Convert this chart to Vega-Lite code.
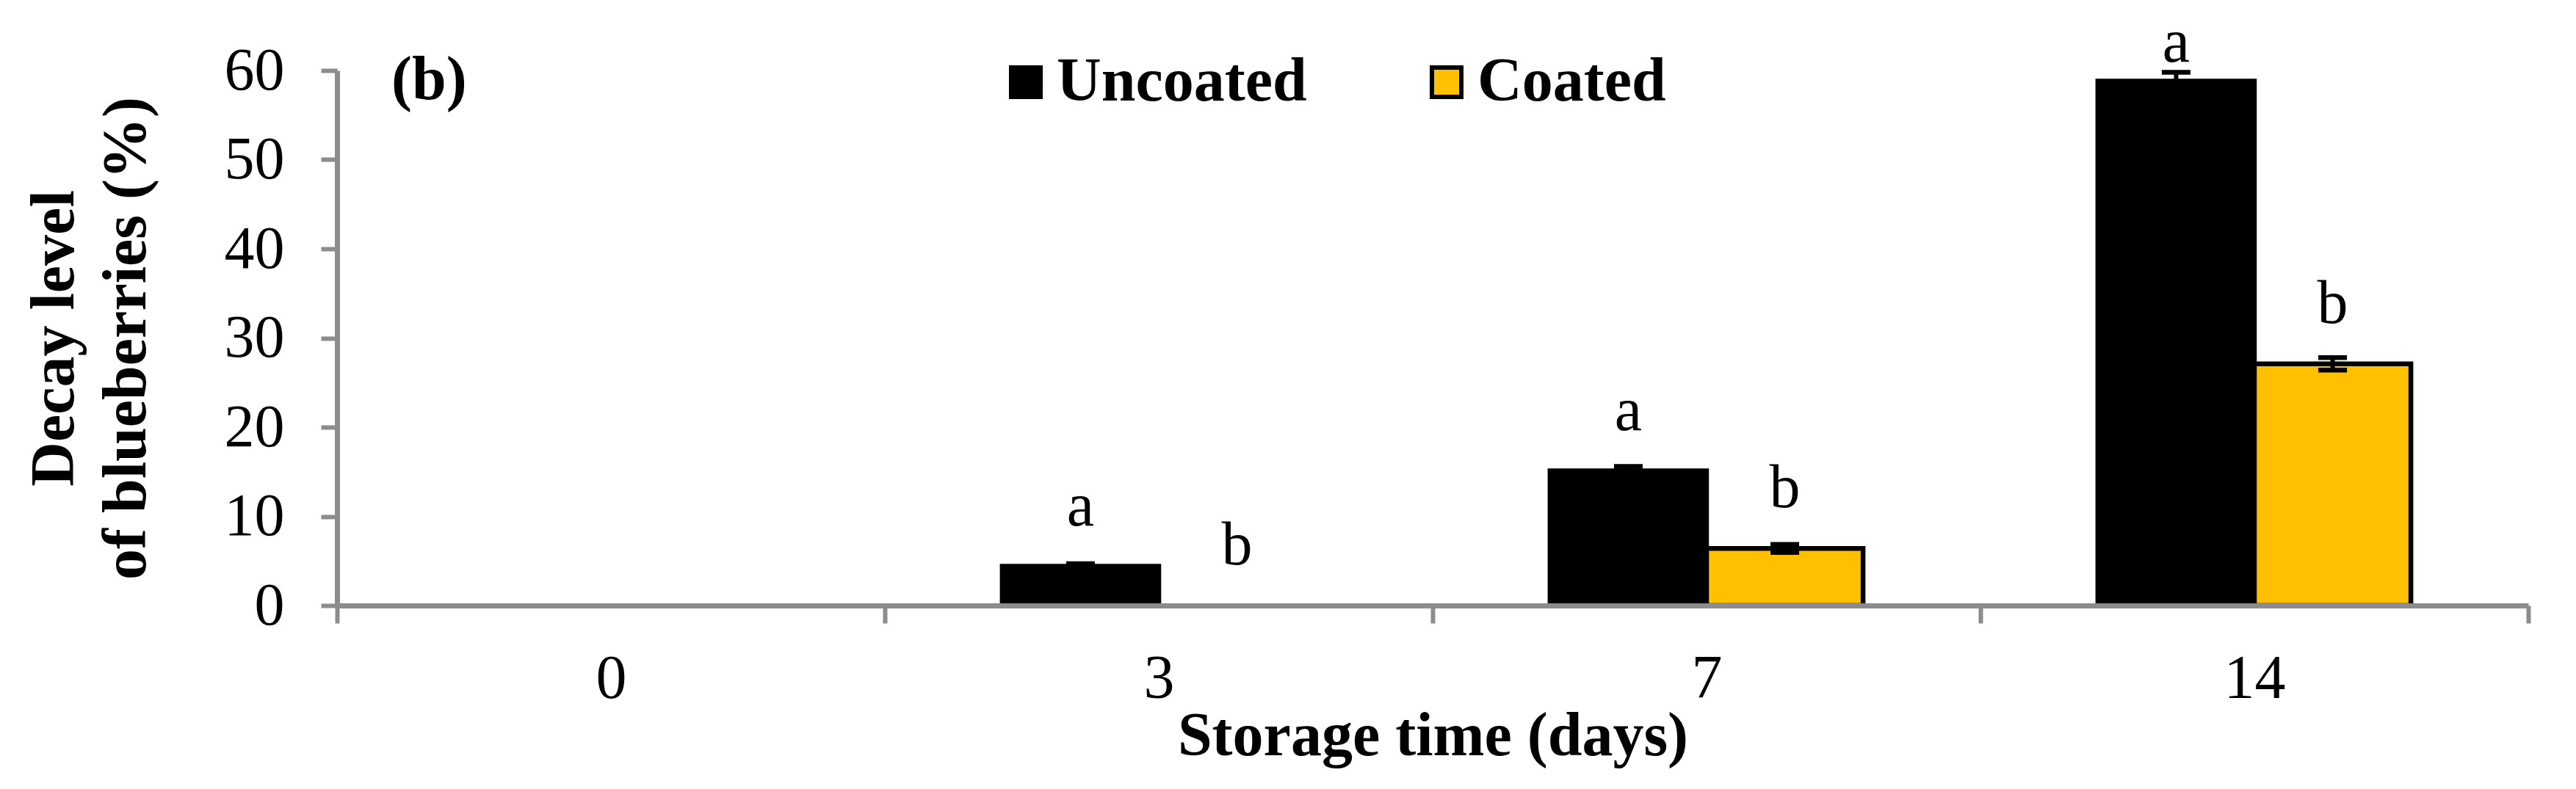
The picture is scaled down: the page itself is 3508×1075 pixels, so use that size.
{
  "$schema": "https://vega.github.io/schema/vega-lite/v6.json",
  "autosize": {"type": "none"},
  "width": 2984,
  "height": 729,
  "padding": {"left": 459, "top": 96, "right": 65, "bottom": 250},
  "background": "white",
  "view": {"stroke": null},
  "config": {
    "font": "Liberation Serif",
    "axis": {"labelFont": "Liberation Serif", "titleFont": "Liberation Serif", "labelColor": "black", "titleColor": "black"}
  },
  "datasets": {
    "decay": [
      {"day": "0", "group": "Uncoated", "value": 0, "se": 0, "letter": ""},
      {"day": "0", "group": "Coated", "value": 0, "se": 0, "letter": ""},
      {"day": "3", "group": "Uncoated", "value": 4.4, "se": 0.3, "letter": "a"},
      {"day": "3", "group": "Coated", "value": 0, "se": 0, "letter": "b"},
      {"day": "7", "group": "Uncoated", "value": 15.1, "se": 0.5, "letter": "a"},
      {"day": "7", "group": "Coated", "value": 6.4, "se": 0.45, "letter": "b"},
      {"day": "14", "group": "Uncoated", "value": 58.8, "se": 1.0, "letter": "a"},
      {"day": "14", "group": "Coated", "value": 27.1, "se": 0.7, "letter": "b"}
    ],
    "panel": [{"panel": "(b)"}]
  },
  "data": {"name": "decay"},
  "layer": [
    {
      "transform": [{"filter": "datum.value > 0"}],
      "mark": {"type": "bar", "stroke": "black", "strokeWidth": 6.5},
      "encoding": {
        "x": {
          "field": "day",
          "type": "nominal",
          "sort": ["0", "3", "7", "14"],
          "scale": {"domain": ["0", "3", "7", "14"], "paddingInner": 0, "paddingOuter": 0},
          "axis": {
            "title": "Storage time (days)",
            "titleFontSize": 84,
            "titleFontWeight": "bold",
            "titlePadding": -5,
            "labelFontSize": 84,
            "labelAngle": 0,
            "labelPadding": 35,
            "tickBand": "extent",
            "tickSize": 24,
            "tickWidth": 6,
            "tickColor": "#8c8c8c",
            "domainColor": "#8c8c8c",
            "domainWidth": 7,
            "zindex": 1
          }
        },
        "xOffset": {"field": "group", "type": "nominal", "sort": ["Uncoated", "Coated"], "scale": {"domain": ["Uncoated", "Coated"], "paddingInner": 0, "paddingOuter": 0.75}},
        "y": {
          "field": "value",
          "type": "quantitative",
          "scale": {"domain": [0, 60], "nice": false},
          "axis": {
            "title": ["Decay level", "of blueberries (%)"],
            "titleFontSize": 84,
            "titleFontWeight": "bold",
            "titleLineHeight": 98,
            "titlePadding": 90,
            "values": [0, 10, 20, 30, 40, 50, 60],
            "labelFontSize": 82,
            "labelPadding": 50,
            "tickSize": 22,
            "tickWidth": 6,
            "tickColor": "#8c8c8c",
            "domainColor": "#8c8c8c",
            "domainWidth": 7,
            "grid": false
          }
        },
        "color": {
          "field": "group",
          "type": "nominal",
          "sort": ["Uncoated", "Coated"],
          "scale": {"domain": ["Uncoated", "Coated"], "range": ["#000000", "#FFC000"]},
          "legend": {
            "title": null,
            "orient": "none",
            "direction": "horizontal",
            "legendX": 896,
            "legendY": -26,
            "padding": 0,
            "symbolType": "square",
            "symbolSize": 1600,
            "symbolStrokeColor": "black",
            "symbolStrokeWidth": 6,
            "labelFont": "Liberation Serif",
            "labelFontSize": 84,
            "labelFontWeight": "bold",
            "labelColor": "black",
            "labelOffset": 0,
            "columnPadding": 148,
            "labelLimit": 1000
          }
        }
      }
    },
    {
      "transform": [
        {"filter": "datum.se > 0"},
        {"calculate": "datum.value - datum.se", "as": "lo"},
        {"calculate": "datum.value + datum.se", "as": "hi"}
      ],
      "mark": {"type": "rule", "color": "black", "strokeWidth": 6},
      "encoding": {
        "x": {"field": "day", "type": "nominal"},
        "xOffset": {"field": "group", "type": "nominal"},
        "y": {"field": "lo", "type": "quantitative"},
        "y2": {"field": "hi"}
      }
    },
    {
      "transform": [
        {"filter": "datum.se > 0"},
        {"calculate": "datum.value + datum.se", "as": "hi"}
      ],
      "mark": {"type": "tick", "color": "black", "size": 39, "thickness": 6.5, "opacity": 1},
      "encoding": {
        "x": {"field": "day", "type": "nominal"},
        "xOffset": {"field": "group", "type": "nominal"},
        "y": {"field": "hi", "type": "quantitative"}
      }
    },
    {
      "transform": [
        {"filter": "datum.se > 0"},
        {"calculate": "datum.value - datum.se", "as": "lo"}
      ],
      "mark": {"type": "tick", "color": "black", "size": 39, "thickness": 6.5, "opacity": 1},
      "encoding": {
        "x": {"field": "day", "type": "nominal"},
        "xOffset": {"field": "group", "type": "nominal"},
        "y": {"field": "lo", "type": "quantitative"}
      }
    },
    {
      "transform": [
        {"filter": "datum.letter != ''"},
        {"calculate": "min(datum.value, 56.4)", "as": "labelY"}
      ],
      "mark": {"type": "text", "font": "Liberation Serif", "fontSize": 84, "color": "black", "baseline": "alphabetic", "dy": -56},
      "encoding": {
        "x": {"field": "day", "type": "nominal"},
        "xOffset": {"field": "group", "type": "nominal"},
        "y": {"field": "labelY", "type": "quantitative"},
        "text": {"field": "letter"}
      }
    },
    {
      "data": {"name": "panel"},
      "mark": {"type": "text", "font": "Liberation Serif", "fontSize": 84, "fontWeight": "bold", "color": "black", "align": "left", "baseline": "alphabetic", "dx": -299, "dy": 39},
      "encoding": {
        "x": {"datum": "0", "type": "nominal"},
        "y": {"datum": 60, "type": "quantitative"},
        "text": {"field": "panel"}
      }
    }
  ]
}
